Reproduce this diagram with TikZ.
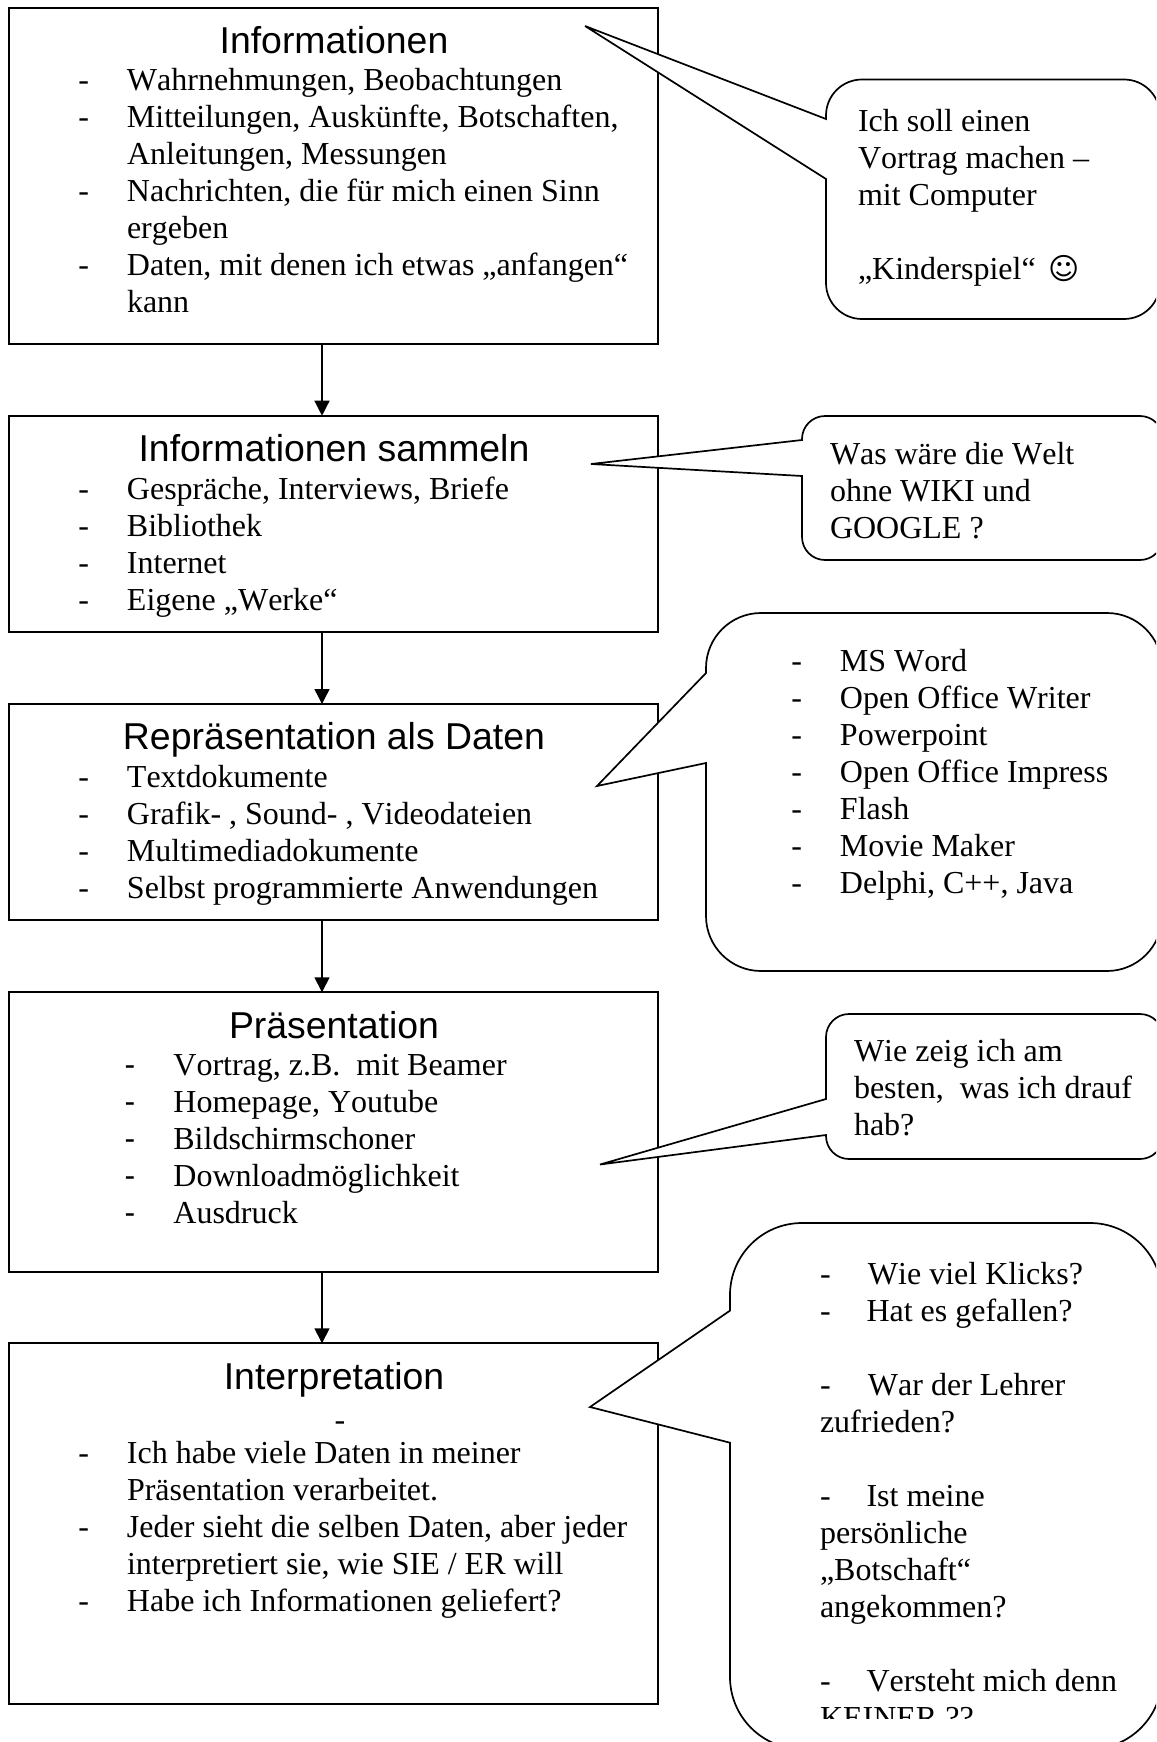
\documentclass[tikz,border=0pt]{standalone}
\usepackage{fontspec}
\usetikzlibrary{arrows.meta}
\setmainfont[Kerning=Off,Ligatures=NoCommon]{Liberation Serif}
\newfontfamily\headfam[Kerning=Off,Ligatures=NoCommon]{Liberation Sans}
\newfontfamily\symfam{DejaVu Sans}
\newcommand\bodyf{\fontsize{32pt}{37pt}\selectfont\frenchspacing}
\newcommand\headf{\fontsize{37.4pt}{43pt}\headfam\selectfont\frenchspacing}
\newcommand\dsh{\makebox[0pt][r]{-\hspace{38pt}}}
\newcommand\dsa{\makebox[0pt][r]{{\headfam -}\hspace{38pt}}}
\newcommand\callout[8]{%
  \path[calloutshape] (#1) -- (#2,#7) -- (#2,#3+#6)
    arc[start angle=180,end angle=90,radius=#6 pt] -- (#4-#6,#3)
    arc[start angle=90,end angle=0,radius=#6 pt] -- (#4,#5-#6)
    arc[start angle=0,end angle=-90,radius=#6 pt] -- (#2+#6,#5)
    arc[start angle=-90,end angle=-180,radius=#6 pt] -- (#2,#8) -- cycle;}
\tikzset{
  flowbox/.style={draw,line width=2pt,inner sep=0pt,outer sep=0pt,anchor=north west,minimum width=648.7pt},
  calloutshape/.style={draw,fill=white,line width=1.7pt},
  flow/.style={line width=1.4pt,-{Triangle[length=15pt,width=15pt]}},
  head/.style={anchor=base,inner sep=0pt,outer sep=0pt,font=\headf,yshift=-1.5pt},
  txt/.style={anchor=north west,inner sep=0pt,outer sep=0pt,align=left,font=\bodyf,yshift=-5.5pt,execute at begin node={\rule{0pt}{26pt}}},
}
\begin{document}
\begin{tikzpicture}[x=1pt,y=-1pt]
\useasboundingbox (0,0) rectangle (1156,1742);
\clip (0,0) rectangle (1156,1742);
\coordinate (ax) at (322,0);
% boxes
\node[flowbox,minimum height=336pt]   (b1) at (9.3,8) {};
\node[flowbox,minimum height=216pt]   (b2) at (9.3,415.7) {};
\node[flowbox,minimum height=216pt]   (b3) at (9.3,704) {};
\node[flowbox,minimum height=279.4pt] (b4) at (9.3,992.3) {};
\node[flowbox,minimum height=360.3pt] (b5) at (9.3,1343.3) {};
% arrows
\draw[flow] (ax |- b1.south) -- (ax |- b2.north);
\draw[flow] (ax |- b2.south) -- (ax |- b3.north);
\draw[flow] (ax |- b3.south) -- (ax |- b4.north);
\draw[flow] (ax |- b4.south) -- (ax |- b5.north);
% box texts
\node[head] (h1) at (334,52) {Informationen};
\node[txt] (t1) at (127,63) {\dsh Wahrnehmungen, Beobachtungen\\
\dsh Mitteilungen, Auskünfte, Botschaften,\\
Anleitungen, Messungen\\
\dsh Nachrichten, die für mich einen Sinn\\
ergeben\\
\dsh Daten, mit denen ich etwas „anfangen“\\
kann};
\node[head] (h2) at (334,460) {Informationen sammeln};
\node[txt] (t2) at (127,471.7) {\dsh Gespräche, Interviews, Briefe\\
\dsh Bibliothek\\
\dsh Internet\\
\dsh Eigene „Werke“};
\node[head] (h3) at (334,748.3) {Repräsentation als Daten};
\node[txt] (t3) at (127,759.5) {\dsh Textdokumente\\
\dsh Grafik- , Sound- , Videodateien\\
\dsh Multimediadokumente\\
\dsh Selbst programmierte Anwendungen};
\node[head] (h4) at (334,1036.7) {Präsentation};
\node[txt] (t4) at (173.4,1049) {\dsa Vortrag, z.B.\ \ mit Beamer\\
\dsa Homepage, Youtube\\
\dsa Bildschirmschoner\\
\dsa Downloadmöglichkeit\\
\dsa Ausdruck};
\node[head] (h5) at (334,1388) {Interpretation};
\node[txt] (t5a) at (334.6,1399) {-};
\node[txt] (t5) at (127,1436) {\dsh Ich habe viele Daten in meiner\\
Präsentation verarbeitet.\\
\dsh Jeder sieht die selben Daten, aber jeder\\
interpretiert sie, wie SIE / ER will\\
\dsh Habe ich Informationen geliefert?};
% callouts
\coordinate (c1) at (585,26);
\coordinate (c2) at (591,464);
\coordinate (c3) at (597,786);
\coordinate (c4) at (600,1164.5);
\coordinate (c5) at (590,1407);
\callout{c1}{826}{79.5}{1160}{319}{36}{119}{179}
\callout{c2}{802}{416}{1163}{560}{23}{440}{476}
\callout{c3}{706}{613}{1162}{971}{55}{673}{763}
\callout{c4}{826}{1014}{1163}{1159}{23}{1099}{1135}
\callout{c5}{730}{1223}{1162}{1749}{72}{1310.6}{1442.7}
% callout texts
\node[txt] (n1) at (858,104) {Ich soll einen\\Vortrag machen –\\mit Computer\\ \mbox{}\\„Kinderspiel“\hspace{13pt}{\symfam\fontsize{30pt}{37pt}\selectfont ☺}};
\node[txt] (n2) at (830,436.5) {Was wäre die Welt\\ohne WIKI und\\GOOGLE ?};
\node[txt] (n3) at (840,643.5) {\dsh MS Word\\\dsh Open Office Writer\\\dsh Powerpoint\\\dsh Open Office Impress\\\dsh Flash\\\dsh Movie Maker\\\dsh Delphi, C++, Java};
\node[txt] (n4) at (854,1033.6) {Wie zeig ich am\\besten,\ \ was ich drauf\\hab?};
\newcommand\gp[1]{\makebox[#1][l]{-}}
\begin{scope}
\clip (800,1240) rectangle (1150,1718.5);
\node[txt] (n5) at (820,1257) {\gp{48pt}Wie viel Klicks?\\\gp{46.5pt}Hat es gefallen?\\ \mbox{}\\\gp{48pt}War der Lehrer\\zufrieden?\\ \mbox{}\\\gp{46.5pt}Ist meine\\persönliche\\„Botschaft“\\angekommen?\\ \mbox{}\\\gp{46.5pt}Versteht mich denn\\KEINER ??};
\end{scope}
\end{tikzpicture}
\end{document}
